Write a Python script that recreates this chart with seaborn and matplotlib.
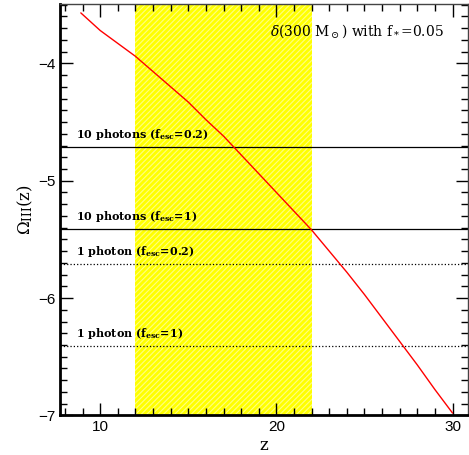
import matplotlib
matplotlib.use("Agg")
import matplotlib.pyplot as plt
import numpy as np
import pandas as pd
import seaborn as sns
from matplotlib.ticker import MultipleLocator

# Omega_III(z) curve
z = [8.9, 10, 11, 12, 13, 14, 15, 16, 17, 18, 19, 20, 21, 22, 23, 24, 25,
     26, 27, 28, 29, 30]
omega = [-3.57, -3.72, -3.83, -3.94, -4.07, -4.20, -4.33, -4.48, -4.62,
         -4.78, -4.94, -5.10, -5.26, -5.42, -5.60, -5.78, -5.97, -6.17,
         -6.37, -6.57, -6.78, -6.98]

# photon thresholds
thr_labels = [r"10 photons (f$_{\bf esc}$=0.2)", r"10 photons (f$_{\bf esc}$=1)",
              r"1 photon (f$_{\bf esc}$=0.2)", r"1 photon (f$_{\bf esc}$=1)"]
thr_values = [-4.71, -5.41, -5.71, -6.41]
thr_styles = ["-", "-", ":", ":"]

band = (12, 22)

sns.set_theme(style="ticks")
plt.rcParams["font.family"] = ["DejaVu Serif"]
plt.rcParams["mathtext.fontset"] = "dejavuserif"
plt.rcParams["text.color"] = "black"
plt.rcParams["axes.labelcolor"] = "black"
plt.rcParams["xtick.color"] = "black"
plt.rcParams["ytick.color"] = "black"
plt.rcParams["hatch.linewidth"] = 0.8

fig = plt.figure(figsize=(4.69, 4.55), dpi=100)
ax = fig.add_axes([0.128, 0.087, 0.870, 0.904])

ax.axvspan(band[0], band[1], facecolor="#ffff00", edgecolor="#ffff80",
           hatch="//////", linewidth=0, zorder=0)

df = pd.DataFrame({"z": z, "omega": omega})
sns.lineplot(data=df, x="z", y="omega", color="red", linewidth=1.0, ax=ax,
             zorder=3)

for lab, val, ls in zip(thr_labels, thr_values, thr_styles):
    ax.axhline(val, color="black", linestyle=ls, linewidth=0.9, zorder=2)
    ax.text(8.6, val + 0.04, lab, fontsize=8, fontweight="bold",
            va="bottom", ha="left")

ax.text(0.94, 0.935, r"$\delta$(300 M$_\odot$) with f$_*$=0.05",
        transform=ax.transAxes, fontsize=10, ha="right", va="center")

ax.set_xlim(7.72, 30.88)
ax.set_ylim(-7, -3.495)
ax.xaxis.set_major_locator(MultipleLocator(10))
ax.xaxis.set_minor_locator(MultipleLocator(1))
ax.yaxis.set_major_locator(MultipleLocator(1))
ax.yaxis.set_minor_locator(MultipleLocator(0.1))
ax.tick_params(which="both", direction="in", top=True, right=True,
               labelsize=11, width=1, color="black")
ax.tick_params(which="major", length=9)
ax.tick_params(which="minor", length=5)
for lab in ax.get_xticklabels() + ax.get_yticklabels():
    lab.set_family("Liberation Sans")
for side in ["left", "bottom"]:
    ax.spines[side].set_linewidth(2)
    ax.spines[side].set_color("black")
for side in ["top", "right"]:
    ax.spines[side].set_linewidth(1)
    ax.spines[side].set_color("#444444")

ax.set_xlabel("z", fontsize=12, labelpad=2)
ax.set_ylabel(r"$\Omega_{\rm III}$(z)", fontsize=12, labelpad=2)

fig.savefig("out.png", dpi=100)
